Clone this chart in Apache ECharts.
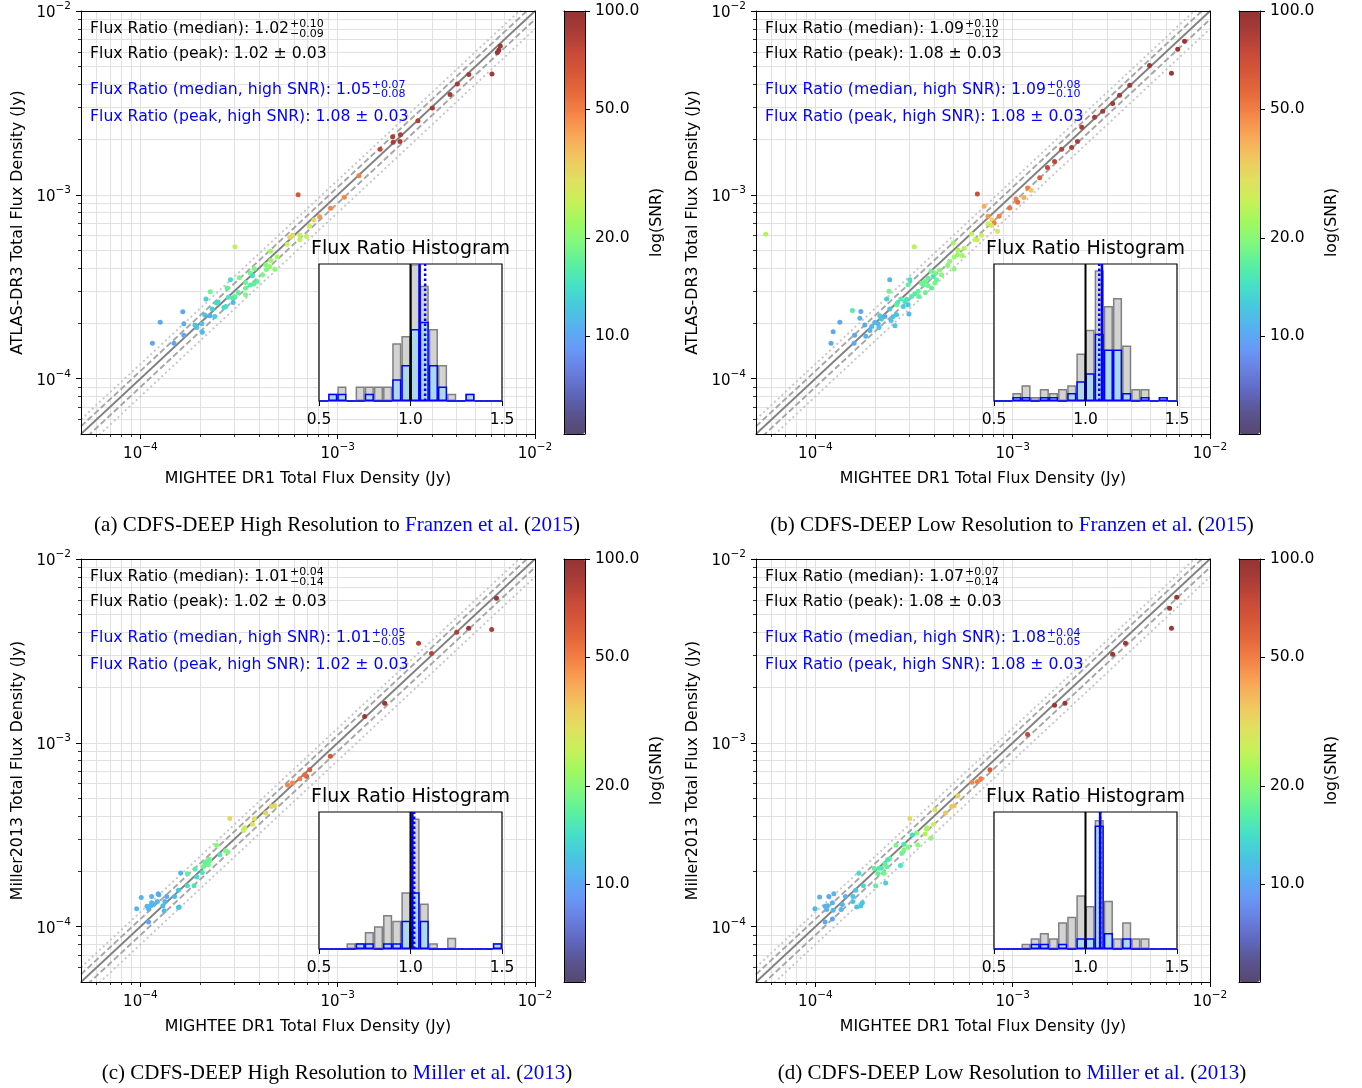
<!DOCTYPE html>
<html><head><meta charset="utf-8">
<script src="https://cdn.jsdelivr.net/npm/echarts@6/dist/echarts.min.js"></script>
<style>html,body{margin:0;padding:0;background:#fff}#c{width:1362px;height:1088px}</style>
</head><body><div id="c"></div><script>
// ---------------- DATA ----------------
// Panel (a): MIGHTEE flux (Jy), ATLAS flux (Jy), SNR
const aX = [6.67e-3,6.44e-3,6.56e-3,6.05e-3,4.62e-3,4.04e-3,3.71e-3,3.02e-3,2.55e-3,2.08e-3,1.90e-3,1.91e-3,2.07e-3,1.64e-3,
 6.30e-4,1.28e-3,1.08e-3,9.2e-4,8.1e-4,7.57e-4,7.2e-4,6.95e-4,6.43e-4,6.43e-4,5.9e-4,5.71e-4,5.55e-4,3.01e-4,4.56e-4,4.93e-4,
 4.58e-4,4.32e-4,4.53e-4,4.80e-4,4.35e-4,3.78e-4,3.61e-4,3.70e-4,4.16e-4,3.91e-4,3.76e-4,3.61e-4,3.41e-4,3.17e-4,3.41e-4,3.41e-4,
 3.13e-4,3.01e-4,2.86e-4,2.75e-4,2.79e-4,2.93e-4,2.95e-4,2.71e-4,2.65e-4,2.48e-4,2.43e-4,2.26e-4,2.15e-4,2.31e-4,2.38e-4,2.25e-4,
 2.12e-4,2.05e-4,1.89e-4,1.93e-4,2.06e-4,1.66e-4,1.64e-4,1.66e-4,1.48e-4,1.26e-4,1.15e-4];
const aY = [6.46e-3,5.94e-3,6.14e-3,4.54e-3,4.51e-3,4.01e-3,3.51e-3,2.97e-3,2.53e-3,2.12e-3,2.07e-3,1.93e-3,1.95e-3,1.77e-3,
 1.0e-3,1.27e-3,9.7e-4,8.45e-4,7.6e-4,7.3e-4,6.75e-4,5.94e-4,6.03e-4,5.7e-4,6.03e-4,5.87e-4,5.38e-4,5.22e-4,4.93e-4,4.59e-4,
 4.39e-4,4.17e-4,4.08e-4,3.94e-4,3.92e-4,3.96e-4,3.76e-4,3.63e-4,3.66e-4,3.38e-4,3.27e-4,3.23e-4,3.34e-4,3.54e-4,3.10e-4,2.86e-4,
 2.94e-4,2.80e-4,3.45e-4,3.11e-4,2.77e-4,2.75e-4,2.60e-4,2.47e-4,2.44e-4,2.61e-4,2.58e-4,2.97e-4,2.71e-4,2.39e-4,2.18e-4,2.20e-4,
 2.22e-4,1.99e-4,1.96e-4,1.90e-4,1.79e-4,1.99e-4,2.31e-4,1.72e-4,1.56e-4,2.03e-4,1.56e-4];
const aSNR = [95,95,95,90,90,90,90,88,85,85,85,85,85,75,
 65,50,48,48,45,32,26,25,25,25,32,32,26,25,22,22,
 22,20,21,20,19,19,18,14,19,17,17,16,18,19,18,19,
 17,17,14,17,15,16,11,14,14,14,14,18,13,13,13,10,
 12,12,12,12,11,10,10,10,10,10,10];

// Panel (b)
const bX = [7.43e-3,6.86e-3,6.38e-3,4.94e-3,3.92e-3,3.48e-3,3.21e-3,2.86e-3,2.60e-3,2.24e-3,2.13e-3,1.99e-3,1.77e-3,1.63e-3,1.50e-3,1.37e-3,
 6.62e-4,7.16e-4,7.5e-4,7.85e-4,8.05e-4,7.8e-4,8.38e-4,8.53e-4,9.66e-4,1.04e-3,1.06e-3,1.14e-3,1.19e-3,1.24e-3,7.5e-4,6.62e-4,
 6.43e-4,6.95e-4,6.18e-4,4.99e-4,5.28e-4,5.68e-4,5.25e-4,5.55e-4,5.05e-4,4.80e-4,4.68e-4,5.05e-4,4.36e-4,4.03e-4,3.85e-4,3.95e-4,
 3.72e-4,4.11e-4,3.59e-4,3.52e-4,3.72e-4,4.03e-4,3.88e-4,3.01e-4,2.95e-4,3.32e-4,3.19e-4,3.34e-4,3.07e-4,3.61e-4,2.71e-4,2.84e-4,
 2.61e-4,2.95e-4,2.79e-4,2.98e-4,2.58e-4,2.38e-4,2.36e-4,2.30e-4,2.38e-4,2.58e-4,2.48e-4,2.42e-4,2.53e-4,2.25e-4,2.12e-4,2.16e-4,
 2.08e-4,2.00e-4,2.10e-4,1.93e-4,1.89e-4,1.78e-4,1.70e-4,1.68e-4,1.54e-4,1.58e-4,1.57e-4,1.33e-4,1.23e-4,1.20e-4,5.6e-5,3.17e-4,
 1.80e-4,3.45e-4,4.25e-4,2.90e-4];
const bY = [6.84e-3,6.19e-3,4.58e-3,5.06e-3,3.94e-3,3.48e-3,3.14e-3,2.85e-3,2.64e-3,2.33e-3,1.95e-3,1.81e-3,1.77e-3,1.52e-3,1.41e-3,1.24e-3,
 1.01e-3,8.67e-4,7.64e-4,7.33e-4,7.03e-4,6.81e-4,6.34e-4,7.64e-4,8.49e-4,9.5e-4,9.12e-4,9.66e-4,1.09e-3,1.06e-3,6.97e-4,5.70e-4,
 5.70e-4,6.03e-4,6.12e-4,5.47e-4,4.99e-4,5.12e-4,4.72e-4,4.67e-4,4.59e-4,4.35e-4,4.13e-4,3.95e-4,3.67e-4,3.76e-4,3.84e-4,3.60e-4,
 3.52e-4,3.45e-4,3.38e-4,3.24e-4,3.21e-4,3.31e-4,3.11e-4,3.45e-4,3.24e-4,2.99e-4,2.90e-4,2.80e-4,2.80e-4,2.94e-4,2.71e-4,2.63e-4,
 2.60e-4,2.52e-4,2.47e-4,2.25e-4,2.52e-4,3.45e-4,2.99e-4,2.71e-4,2.39e-4,2.23e-4,2.18e-4,2.07e-4,1.94e-4,2.18e-4,2.20e-4,2.11e-4,
 1.99e-4,2.02e-4,1.90e-4,1.92e-4,1.83e-4,1.96e-4,2.32e-4,2.13e-4,2.35e-4,1.72e-4,1.56e-4,2.03e-4,1.80e-4,1.56e-4,6.1e-4,5.22e-4,
 1.70e-4,3.30e-4,3.90e-4,2.70e-4];
const bSNR = [95,95,92,92,90,90,90,88,88,85,85,85,80,78,75,60,
 70,40,45,32,50,30,30,50,52,50,55,40,50,35,26,26,
 26,28,25,22,23,24,22,22,21,21,20,20,20,19,18,15,
 17,18,18,17,18,18,17,14,17,17,16,17,16,18,16,15,
 15,12,13,11,17,11,18,13,12,12,12,12,12,10,13,12,
 11,11,12,11,11,10,10,11,16,10,10,10,10,10,24,25,
 11,18,20,15];

// Panel (c)
const cX = [6.38e-3,6.03e-3,4.61e-3,4.01e-3,2.99e-3,2.57e-3,1.73e-3,1.37e-3,9.18e-4,7.21e-4,6.95e-4,6.81e-4,6.43e-4,5.90e-4,5.57e-4,
 4.80e-4,4.62e-4,4.31e-4,3.78e-4,3.70e-4,3.38e-4,3.32e-4,3.35e-4,2.84e-4,2.43e-4,2.70e-4,2.77e-4,2.53e-4,2.23e-4,2.16e-4,
 2.12e-4,2.08e-4,2.21e-4,2.25e-4,1.89e-4,2.06e-4,1.93e-4,1.73e-4,1.60e-4,1.87e-4,1.73e-4,1.56e-4,1.49e-4,1.36e-4,1.57e-4,
 1.56e-4,1.33e-4,1.30e-4,1.32e-4,1.23e-4,1.22e-4,1.14e-4,1.14e-4,1.17e-4,1.13e-4,1.08e-4,1.10e-4,1.01e-4,9.57e-5,1.10e-4,1.24e-4];
const cY = [6.11e-3,4.14e-3,4.20e-3,3.99e-3,3.06e-3,3.48e-3,1.64e-3,1.39e-3,8.45e-4,7.14e-4,6.58e-4,6.71e-4,6.37e-4,6.05e-4,5.90e-4,
 4.55e-4,4.51e-4,4.15e-4,3.86e-4,3.61e-4,3.45e-4,3.34e-4,3.39e-4,3.88e-4,2.77e-4,2.59e-4,2.55e-4,2.46e-4,2.33e-4,2.26e-4,
 2.20e-4,2.12e-4,2.17e-4,2.28e-4,2.06e-4,1.97e-4,1.86e-4,1.94e-4,1.96e-4,1.67e-4,1.67e-4,1.58e-4,1.46e-4,1.46e-4,1.28e-4,
 1.27e-4,1.37e-4,1.30e-4,1.22e-4,1.51e-4,1.37e-4,1.46e-4,1.35e-4,1.33e-4,1.30e-4,1.29e-4,1.25e-4,1.44e-4,1.25e-4,1.06e-4,1.49e-4];
const cSNR = [95,85,95,85,80,80,95,95,65,62,62,55,50,48,48,
 32,32,33,30,30,25,25,26,32,20,19,19,15,18,18,
 17,18,18,18,16,15,14,17,11,15,14,12,11,10,12,
 12,11,11,11,11,11,11,11,11,11,11,11,11,11,10,10];

// Panel (d)
const dX = [6.78e-3,6.24e-3,6.38e-3,3.73e-3,3.21e-3,1.84e-3,1.63e-3,1.19e-3,7.67e-4,6.89e-4,6.62e-4,6.22e-4,5.28e-4,5.05e-4,4.90e-4,
 4.56e-4,4.03e-4,3.01e-4,3.97e-4,3.70e-4,3.65e-4,3.85e-4,3.59e-4,3.26e-4,3.30e-4,3.10e-4,2.95e-4,2.81e-4,2.81e-4,2.56e-4,
 2.74e-4,2.70e-4,2.38e-4,2.32e-4,2.25e-4,2.30e-4,2.16e-4,2.23e-4,2.08e-4,2.10e-4,1.99e-4,2.27e-4,2.02e-4,1.75e-4,1.66e-4,
 1.60e-4,1.55e-4,1.55e-4,1.73e-4,1.70e-4,1.62e-4,1.42e-4,1.37e-4,1.35e-4,1.24e-4,1.22e-4,1.17e-4,1.15e-4,1.12e-4,1.14e-4,
 1.23e-4,1.05e-4,9.95e-5,1.12e-4,1.22e-4];
const dY = [6.19e-3,5.40e-3,4.20e-3,3.48e-3,3.03e-3,1.64e-3,1.60e-3,1.11e-3,7.14e-4,6.37e-4,6.15e-4,6.10e-4,5.16e-4,4.55e-4,4.51e-4,
 4.15e-4,4.33e-4,3.88e-4,3.61e-4,3.45e-4,3.40e-4,3.03e-4,3.19e-4,3.23e-4,2.78e-4,3.15e-4,2.71e-4,2.81e-4,2.62e-4,2.77e-4,
 2.51e-4,2.15e-4,2.34e-4,2.31e-4,2.20e-4,2.12e-4,2.08e-4,1.95e-4,1.94e-4,2.08e-4,2.07e-4,1.73e-4,1.67e-4,1.67e-4,1.95e-4,
 1.58e-4,1.46e-4,1.37e-4,1.35e-4,1.30e-4,1.28e-4,1.46e-4,1.32e-4,1.24e-4,1.51e-4,1.35e-4,1.46e-4,1.30e-4,1.29e-4,1.24e-4,
 1.23e-4,1.45e-4,1.25e-4,1.06e-4,1.10e-4];
const dSNR = [95,95,92,92,92,95,95,75,62,50,50,48,33,36,36,
 35,30,32,28,23,23,21,24,20,20,14,20,15,19,19,
 18,15,18,15,17,17,15,18,17,16,17,13,17,14,14,
 12,12,12,12,12,12,11,11,11,11,11,10,11,11,11,
 11,11,11,10,10];

// Histogram bins (flux ratio, width 0.05 from 0.50 to 1.50)
const histBins = ['0.50','0.55','0.60','0.65','0.70','0.75','0.80','0.85','0.90','0.95','1.00','1.05','1.10','1.15','1.20','1.25','1.30','1.35','1.40','1.45'];
const histA_all  = [0,1,2,0,2,2,2,2,8,9,19,16,10,5,1,0,1,0,0,0];
const histA_high = [0,1,1,0,0,1,0,0,3,5,10,11,5,2,0,0,1,0,0,0];
const histB_all  = [0,0,2,4,1,3,2,3,4,12,18,33,24,26,14,3,3,0,1,0];
const histB_high = [0,0,1,1,0,1,1,0,2,5,7,17,13,13,2,0,1,0,1,0];
const histC_all  = [0,0,0,1,1,3,4,6,5,10,23,8,1,0,2,0,0,0,0,1];
const histC_high = [0,0,0,0,1,1,0,1,1,5,10,5,0,0,0,0,0,0,0,1];
const histD_all  = [0,0,0,1,2,3,2,5,6,10,8,24,9,2,5,2,2,0,0,0];
const histD_high = [0,0,0,0,1,1,0,1,0,2,2,23,3,0,2,0,0,0,0,0];
const histMax = [19, 34.6, 24.15, 25.5];

// Flux-ratio statistics [median, +err, -err, peak text, medianHigh, +err, -err, peakHigh text]
const statsA = ['1.02','+0.10','−0.09','1.02 ± 0.03','1.05','+0.07','−0.08','1.08 ± 0.03'];
const statsB = ['1.09','+0.10','−0.12','1.08 ± 0.03','1.09','+0.08','−0.10','1.08 ± 0.03'];
const statsC = ['1.01','+0.04','−0.14','1.02 ± 0.03','1.01','+0.05','−0.05','1.02 ± 0.03'];
const statsD = ['1.07','+0.07','−0.14','1.08 ± 0.03','1.08','+0.04','−0.05','1.08 ± 0.03'];
// median / peak (high SNR) flux ratios drawn in the histograms
const medHigh = [1.05, 1.09, 1.01, 1.08];
const peakHigh = [1.08, 1.075, 1.02, 1.08];
const refRatio = 1.0;

// Diagonal reference lines: ratio factors
const diagSolid = [1.0];
const diagDashed = [1.1, 0.9];
const diagDotted = [1.2, 0.8];

// Axis tick values
const fluxMin = 5e-5, fluxMax = 1e-2;
const majorExp = [-4, -3, -2];
const snrMin = 5, snrMax = 100;
const snrTicks = [10, 20, 50, 100];

const xName = 'MIGHTEE DR1 Total Flux Density (Jy)';
const yNames = ['ATLAS-DR3 Total Flux Density (Jy)','ATLAS-DR3 Total Flux Density (Jy)','Miller2013 Total Flux Density (Jy)','Miller2013 Total Flux Density (Jy)'];
const captions = [
  ['(a) CDFS-DEEP High Resolution to ', 'Franzen et al.', '2015'],
  ['(b) CDFS-DEEP Low Resolution to ', 'Franzen et al.', '2015'],
  ['(c) CDFS-DEEP High Resolution to ', 'Miller et al.', '2013'],
  ['(d) CDFS-DEEP Low Resolution to ', 'Miller et al.', '2013']
];

// ---------------- BUILD ----------------
const FONT = 'DejaVu Sans';
const L = Math.log10;
const LMIN = L(fluxMin), LMAX = L(fluxMax);
const majorTicks = majorExp.slice();
const allTicks = [];
for (let d = -5; d <= -3; d++) for (let k = 1; k <= 9; k++) {
  const v = L(k) + d;
  if (v > LMIN + 1e-6 && v < LMAX - 1e-6) allTicks.push(v);
}
const cbTicks = snrTicks.map(L);
const cmap = ['#584870','#5a5492','#6068c0','#6880e0','#6898f8','#58b0f0','#48c8e0','#46e0c8','#5af0a0','#80f880','#a0f860',
  '#c8f058','#e0e060','#f0c860','#f8aa58','#f6894a','#e86c3c','#d85838','#c84a38','#aa3c36','#923434'];

const sciRich = {
  n: {fontFamily: FONT, fontSize: 15, color: '#000', lineHeight: 20, verticalAlign: 'bottom'},
  s: {fontFamily: FONT, fontSize: 10.5, color: '#000', lineHeight: 11, verticalAlign: 'bottom', padding: [0, 0, 9, 0]}
};
function sciLabel(v) { const e = Math.round(v); return '{n|10}{s|−' + Math.abs(e) + '}'; }

const ctx = document.createElement('canvas').getContext('2d');
function tw(t, size) { ctx.font = size + 'px "' + FONT + '"'; return ctx.measureText(t).width; }

const grids = [], xAxes = [], yAxes = [], series = [], visualMaps = [], graphics = [];
const panelData = [
  [aX, aY, aSNR, histA_all, histA_high, statsA],
  [bX, bY, bSNR, histB_all, histB_high, statsB],
  [cX, cY, cSNR, histC_all, histC_high, statsC],
  [dX, dY, dSNR, histD_all, histD_high, statsD]
];
const offsets = [[0, 0], [675, 0], [0, 548], [675, 548]];
const nameStyle = {fontFamily: FONT, fontSize: 15.8, color: '#000'};

panelData.forEach((pd, pi) => {
  const [X, Y, S, hAll, hHigh, st] = pd;
  const [dx, dy] = offsets[pi];
  const gMain = grids.length; grids.push({left: 81 + dx, top: 11 + dy, width: 454, height: 423, show: false});
  const gIn = grids.length; grids.push({left: 319 + dx, top: 264 + dy, width: 183, height: 137, show: true, backgroundColor: '#fff', borderColor: '#000', borderWidth: 1.2, z: 1});
  const gCb = grids.length; grids.push({left: 564 + dx, top: 11 + dy, width: 21, height: 423, show: false});

  // ---- main axes
  const axBase = {type: 'value', min: LMIN, max: LMAX};
  xAxes.push(Object.assign({}, axBase, {gridIndex: gMain, position: 'bottom', z: 0,
    axisLine: {show: false}, axisTick: {show: true, customValues: allTicks, length: 3, lineStyle: {color: '#000', width: 0.8}},
    axisLabel: {show: false}, splitLine: {show: true, lineStyle: {color: '#e1e1e1', width: 1}}}));
  const xMajor = xAxes.length;
  xAxes.push(Object.assign({}, axBase, {gridIndex: gMain, position: 'bottom', z: 3,
    axisLine: {show: true, onZero: false, lineStyle: {color: '#000', width: 1}},
    axisTick: {show: true, customValues: majorTicks, length: 5, lineStyle: {color: '#000', width: 1}},
    axisLabel: {show: true, customValues: majorTicks, formatter: sciLabel, rich: sciRich, margin: 8},
    splitLine: {show: false},
    name: xName, nameLocation: 'middle', nameGap: 37, nameTextStyle: nameStyle}));
  xAxes.push(Object.assign({}, axBase, {gridIndex: gMain, position: 'top', z: 3,
    axisLine: {show: true, onZero: false, lineStyle: {color: '#000', width: 1}}, axisTick: {show: false}, axisLabel: {show: false}, splitLine: {show: false}}));

  yAxes.push(Object.assign({}, axBase, {gridIndex: gMain, position: 'left', z: 0,
    axisLine: {show: false}, axisTick: {show: true, customValues: allTicks, length: 3, lineStyle: {color: '#000', width: 0.8}},
    axisLabel: {show: false}, splitLine: {show: true, lineStyle: {color: '#e1e1e1', width: 1}}}));
  const yMajor = yAxes.length;
  yAxes.push(Object.assign({}, axBase, {gridIndex: gMain, position: 'left', z: 3,
    axisLine: {show: true, onZero: false, lineStyle: {color: '#000', width: 1}},
    axisTick: {show: true, customValues: majorTicks, length: 5, lineStyle: {color: '#000', width: 1}},
    axisLabel: {show: true, customValues: majorTicks, formatter: sciLabel, rich: sciRich, margin: 10},
    splitLine: {show: false},
    name: yNames[pi], nameLocation: 'middle', nameGap: 55, nameRotate: 90, nameTextStyle: nameStyle}));
  yAxes.push(Object.assign({}, axBase, {gridIndex: gMain, position: 'right', z: 3,
    axisLine: {show: true, onZero: false, lineStyle: {color: '#000', width: 1}}, axisTick: {show: false}, axisLabel: {show: false}, splitLine: {show: false}}));

  // ---- inset axes
  const xCat = xAxes.length;
  xAxes.push({type: 'category', gridIndex: gIn, data: histBins, boundaryGap: true, show: false});
  const xVal = xAxes.length;
  xAxes.push({type: 'value', gridIndex: gIn, min: 0.5, max: 1.5, interval: 0.5, position: 'bottom', z: 5,
    axisLine: {show: false}, axisTick: {show: true, length: 5, lineStyle: {color: '#000', width: 1}},
    axisLabel: {fontFamily: FONT, fontSize: 15.5, color: '#000', margin: 11, formatter: v => v.toFixed(1)}, splitLine: {show: false}});
  const yIn = yAxes.length;
  yAxes.push({type: 'value', gridIndex: gIn, min: 0, max: histMax[pi], show: false, splitLine: {show: false}});

  // ---- colorbar axes
  const cbBase = {type: 'value', min: L(snrMin), max: L(snrMax), gridIndex: gCb, z: 6};
  yAxes.push(Object.assign({}, cbBase, {position: 'right',
    axisLine: {show: true, onZero: false, lineStyle: {color: '#000', width: 1}},
    axisTick: {show: true, customValues: cbTicks, length: 5, lineStyle: {color: '#000', width: 1}},
    axisLabel: {show: true, customValues: cbTicks, margin: 10, fontFamily: FONT, fontSize: 15.5, color: '#000', formatter: v => Math.pow(10, v).toFixed(1)},
    splitLine: {show: false},
    name: 'log(SNR)', nameLocation: 'middle', nameGap: 64, nameRotate: 90, nameTextStyle: nameStyle}));
  yAxes.push(Object.assign({}, cbBase, {position: 'left', axisLine: {show: true, onZero: false, lineStyle: {color: '#000', width: 1}}, axisTick: {show: false}, axisLabel: {show: false}, splitLine: {show: false}}));
  xAxes.push({type: 'value', gridIndex: gCb, position: 'bottom', z: 6, axisLine: {show: true, onZero: false, lineStyle: {color: '#000', width: 1}}, axisTick: {show: false}, axisLabel: {show: false}, splitLine: {show: false}});
  xAxes.push({type: 'value', gridIndex: gCb, position: 'top', z: 6, axisLine: {show: true, onZero: false, lineStyle: {color: '#000', width: 1}}, axisTick: {show: false}, axisLabel: {show: false}, splitLine: {show: false}});

  // ---- diagonal lines
  const diag = (k, style) => series.push({type: 'line', xAxisIndex: xMajor, yAxisIndex: yMajor, symbol: 'none', silent: true, z: 1, clip: true,
    data: [[LMIN, LMIN + L(k)], [LMAX, LMAX + L(k)]], lineStyle: style});
  diagDotted.forEach(k => diag(k, {color: '#c6c6c6', width: 1.9, type: [2, 3]}));
  diagDashed.forEach(k => diag(k, {color: '#a6a6a6', width: 1.9, type: [6, 3]}));
  diagSolid.forEach(k => diag(k, {color: '#808080', width: 1.8, type: 'solid'}));

  // ---- scatter
  const sIdx = series.length;
  series.push({type: 'scatter', xAxisIndex: xMajor, yAxisIndex: yMajor, symbolSize: 5, z: 2, silent: true,
    data: X.map((v, i) => [L(v), L(Y[i]), L(S[i])]), itemStyle: {opacity: 1}});
  visualMaps.push({type: 'continuous', seriesIndex: sIdx, dimension: 2, min: L(snrMin), max: L(snrMax),
    inRange: {color: cmap}, left: 564 + dx, top: 11 + dy, itemWidth: 21, itemHeight: 423, padding: 0,
    calculable: false, hoverLink: false, z: 4});

  // ---- histogram
  series.push({type: 'bar', xAxisIndex: xCat, yAxisIndex: yIn, data: hAll, barWidth: '100%', barGap: '-100%', silent: true, z: 3,
    itemStyle: {color: '#d3d3d3', borderColor: '#808080', borderWidth: 1.5}});
  series.push({type: 'bar', xAxisIndex: xCat, yAxisIndex: yIn, data: hHigh, barWidth: '100%', barGap: '-100%', silent: true, z: 4,
    itemStyle: {color: '#add8e6', borderColor: '#0000ff', borderWidth: 1.5}});
  const vline = (v, style) => series.push({type: 'line', xAxisIndex: xVal, yAxisIndex: yIn, symbol: 'none', silent: true, z: 5,
    data: [[v, 0], [v, histMax[pi]]], lineStyle: style});
  vline(refRatio, {color: '#000', width: 2});
  vline(medHigh[pi], {color: '#0000ff', width: 2.5, type: 'solid'});
  vline(peakHigh[pi], {color: '#0000ff', width: 2.5, type: [2.5, 2.5]});

  // ---- annotations
  const tx = 90 + dx;
  const fs = 15.7, fsS = 11;
  const t1 = 'Flux Ratio (median): ' + st[0];
  const t3 = 'Flux Ratio (median, high SNR): ' + st[4];
  const txt = (x, y, text, size, color) => graphics.push({type: 'text', x: x, y: y, z: 10, silent: true,
    style: {text: text, fill: color, font: size + 'px "' + FONT + '"', textAlign: 'left', textVerticalAlign: 'middle'}});
  txt(tx, 28.5 + dy, t1, fs, '#000');
  const w1 = tw(t1, fs) + 1;
  txt(tx + w1, 24.5 + dy, st[1], fsS, '#000');
  txt(tx + w1, 34 + dy, st[2], fsS, '#000');
  txt(tx, 54 + dy, 'Flux Ratio (peak): ' + st[3], fs, '#000');
  txt(tx, 89.5 + dy, t3, fs, '#0000ff');
  const w3 = tw(t3, fs) + 1;
  txt(tx + w3, 85 + dy, st[5], fsS, '#0000ff');
  txt(tx + w3, 94.5 + dy, st[6], fsS, '#0000ff');
  txt(tx, 116.5 + dy, 'Flux Ratio (peak, high SNR): ' + st[7], fs, '#0000ff');
  // inset title
  graphics.push({type: 'text', x: 410.5 + dx, y: 249 + dy, z: 10, silent: true,
    style: {text: 'Flux Ratio Histogram', fill: '#000', font: '19px "' + FONT + '"', textAlign: 'center', textVerticalAlign: 'middle'}});
  // caption
  const cp = captions[pi];
  graphics.push({type: 'text', x: 337 + dx, y: 525 + dy, z: 10, silent: true,
    style: {text: '{k|' + cp[0] + '}{b|' + cp[1] + '}{k| (}{b|' + cp[2] + '}{k|)}', textAlign: 'center', textVerticalAlign: 'middle',
      rich: {k: {fontFamily: 'Liberation Serif', fontSize: 21, fill: '#000', color: '#000'}, b: {fontFamily: 'Liberation Serif', fontSize: 21, fill: '#0000ff', color: '#0000ff'}}}});
});

const chart = echarts.init(document.getElementById('c'), null, {renderer: 'canvas', width: 1362, height: 1088});
chart.setOption({
  animation: false,
  backgroundColor: '#fff',
  textStyle: {fontFamily: FONT},
  grid: grids, xAxis: xAxes, yAxis: yAxes, series: series, visualMap: visualMaps, graphic: graphics
});
</script></body></html>
